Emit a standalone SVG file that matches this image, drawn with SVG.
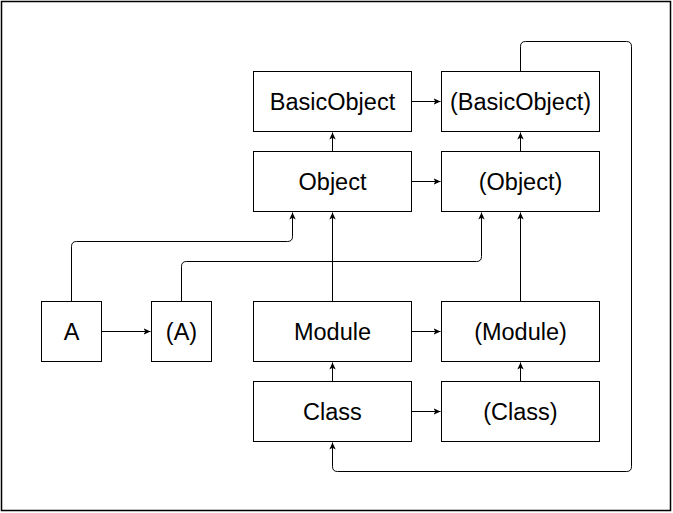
<svg xmlns="http://www.w3.org/2000/svg" width="673" height="513" viewBox="0 0 673 513">
<defs>
<style>
.box{fill:#fff;stroke:#000;stroke-width:1}
.lbl{font-family:"Liberation Sans",Arial,Helvetica,sans-serif;font-size:23.5px;fill:#000;text-anchor:middle}
.edge{fill:none;stroke:#000;stroke-width:1;marker-end:url(#arr)}
</style>
<marker id="arr" viewBox="0 0 8 8" refX="7" refY="4" markerWidth="8" markerHeight="8" markerUnits="userSpaceOnUse" orient="auto">
<path d="M0,0.8 L7,4 L0,7.2 L1.8,4 Z" fill="#000"/>
</marker>
</defs>
<rect x="1.5" y="1.5" width="669" height="509" fill="#fff" stroke="#000" stroke-width="1.5"/>
<g id="connectors">
<path class="edge" d="M411.5,101.5 H440.5"/>
<path class="edge" d="M411.5,181.5 H440.5"/>
<path class="edge" d="M411.5,331.5 H440.5"/>
<path class="edge" d="M411.5,411.5 H440.5"/>
<path class="edge" d="M101.5,331.5 H150.5"/>
<path class="edge" d="M332.5,151.5 V132.5"/>
<path class="edge" d="M520.5,151.5 V132.5"/>
<path class="edge" d="M332.5,301.5 V212.5"/>
<path class="edge" d="M520.5,301.5 V212.5"/>
<path class="edge" d="M332.5,381.5 V362.5"/>
<path class="edge" d="M520.5,381.5 V362.5"/>
<path class="edge" d="M71.5,301.5 V246.5 Q71.5,241.5 76.5,241.5 H287.5 Q292.5,241.5 292.5,236.5 V212.5"/>
<path class="edge" d="M181.5,301.5 V266.5 Q181.5,261.5 186.5,261.5 H476.5 Q481.5,261.5 481.5,256.5 V212.5"/>
<path class="edge" d="M520.5,71.5 V46.5 Q520.5,41.5 525.5,41.5 H626.5 Q631.5,41.5 631.5,46.5 V466.5 Q631.5,471.5 626.5,471.5 H337.5 Q332.5,471.5 332.5,466.5 V442.5"/>
</g>
<g id="node-basicobject"><rect class="box" x="253.5" y="71.5" width="158" height="60"/><text class="lbl" x="332.5" y="110">BasicObject</text></g>
<g id="node-basicobject-meta"><rect class="box" x="441.5" y="71.5" width="158" height="60"/><text class="lbl" x="520.5" y="110">(BasicObject)</text></g>
<g id="node-object"><rect class="box" x="253.5" y="151.5" width="158" height="60"/><text class="lbl" x="332.5" y="190">Object</text></g>
<g id="node-object-meta"><rect class="box" x="441.5" y="151.5" width="158" height="60"/><text class="lbl" x="520.5" y="190">(Object)</text></g>
<g id="node-a"><rect class="box" x="41.5" y="301.5" width="60" height="60"/><text class="lbl" x="71.5" y="340">A</text></g>
<g id="node-a-meta"><rect class="box" x="151.5" y="301.5" width="60" height="60"/><text class="lbl" x="181.5" y="340">(A)</text></g>
<g id="node-module"><rect class="box" x="253.5" y="301.5" width="158" height="60"/><text class="lbl" x="332.5" y="340">Module</text></g>
<g id="node-module-meta"><rect class="box" x="441.5" y="301.5" width="158" height="60"/><text class="lbl" x="520.5" y="340">(Module)</text></g>
<g id="node-class"><rect class="box" x="253.5" y="381.5" width="158" height="60"/><text class="lbl" x="332.5" y="420">Class</text></g>
<g id="node-class-meta"><rect class="box" x="441.5" y="381.5" width="158" height="60"/><text class="lbl" x="520.5" y="420">(Class)</text></g>
</svg>
